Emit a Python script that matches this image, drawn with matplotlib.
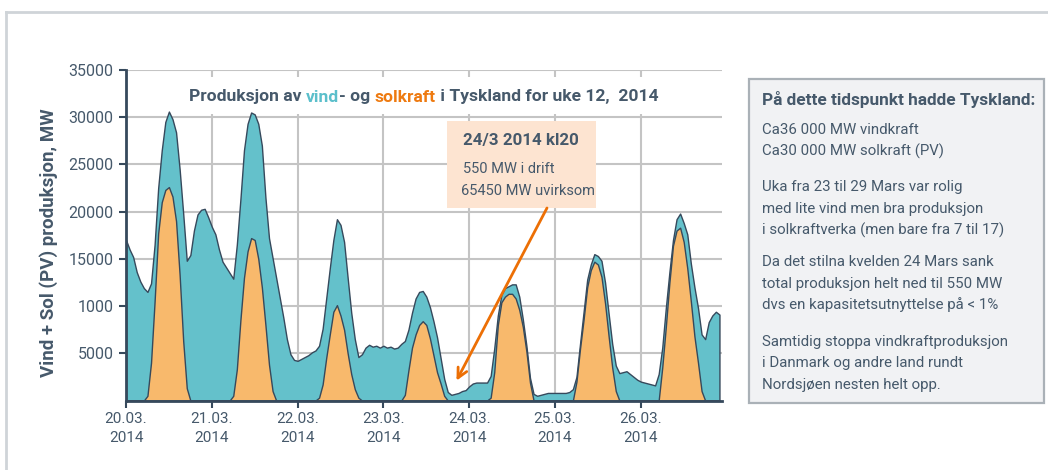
import numpy as np
import matplotlib
matplotlib.use("Agg")
import matplotlib.pyplot as plt
from matplotlib.patches import Rectangle
from matplotlib.lines import Line2D

plt.rcParams['font.family'] = ['Liberation Sans Narrow', 'Roboto', 'DejaVu Sans']

# ---------------- data (MW, hourly from 20.03.2014 00:00) ----------------
total_k = [
    # 20.03
    17.0, 16.0, 15.2, 13.6, 12.6, 11.9, 11.5, 12.4, 16.5, 22.5, 26.5, 29.5,
    30.6, 29.8, 28.4, 24.5, 19.8, 14.8, 15.4, 18.0, 19.7, 20.2, 20.3, 19.4,
    # 21.03
    18.4, 17.6, 16.0, 14.7, 14.1, 13.5, 12.9, 16.5, 21.3, 26.5, 29.3, 30.5,
    30.3, 29.3, 27.0, 21.5, 17.2, 15.1, 13.0, 10.9, 8.8, 6.5, 4.9, 4.3,
    # 22.03
    4.2, 4.4, 4.6, 4.8, 5.1, 5.3, 5.8, 7.6, 10.8, 14.0, 17.0, 19.2,
    18.6, 16.8, 13.0, 9.3, 6.5, 4.6, 4.9, 5.6, 5.9, 5.7, 5.8, 5.6,
    # 23.03
    5.8, 5.6, 5.7, 5.5, 5.6, 6.0, 6.3, 7.5, 9.3, 10.8, 11.5, 11.6,
    11.0, 9.9, 8.4, 6.7, 4.5, 2.3, 0.9, 0.6, 0.7, 0.8, 1.0, 1.1,
    # 24.03
    1.5, 1.8, 1.9, 1.9, 1.9, 1.9, 2.6, 5.5, 9.0, 11.2, 11.9, 12.1,
    12.3, 12.3, 11.0, 8.6, 5.8, 2.4, 0.7, 0.5, 0.6, 0.7, 0.8, 0.8,
    # 25.03
    0.8, 0.8, 0.8, 0.8, 0.9, 1.2, 2.5, 6.0, 9.4, 12.8, 14.4, 15.5,
    15.3, 14.8, 12.5, 9.2, 6.0, 3.7, 2.9, 3.0, 3.1, 2.8, 2.5, 2.2,
    # 26.03
    2.0, 1.9, 1.8, 1.7, 1.6, 2.8, 5.6, 9.8, 13.6, 17.0, 19.2, 19.8,
    18.8, 17.6, 14.5, 12.0, 9.8, 7.0, 6.5, 8.3, 9.0, 9.4, 9.1,
]

solar_k = [
    0, 0, 0, 0, 0, 0, 0.5, 4.0, 10.5, 17.7, 21.0, 22.3,
    22.6, 21.6, 19.0, 13.3, 6.3, 1.3, 0, 0, 0, 0, 0, 0,
    0, 0, 0, 0, 0, 0, 0.5, 3.3, 8.5, 13.0, 15.8, 17.2,
    17.0, 15.0, 12.0, 8.0, 3.8, 1.0, 0, 0, 0, 0, 0, 0,
    0, 0, 0, 0, 0, 0, 0.3, 1.7, 4.5, 7.0, 9.4, 10.1,
    9.0, 7.5, 5.0, 2.8, 1.2, 0.3, 0, 0, 0, 0, 0, 0,
    0, 0, 0, 0, 0, 0, 0.6, 3.2, 5.6, 7.0, 8.0, 8.4,
    8.0, 6.6, 4.8, 3.0, 1.8, 0.5, 0, 0, 0, 0, 0, 0,
    0, 0, 0, 0, 0, 0, 0.3, 3.0, 8.0, 10.4, 11.0, 11.3,
    11.3, 10.8, 9.6, 7.8, 5.2, 1.9, 0, 0, 0, 0, 0, 0,
    0, 0, 0, 0, 0, 0, 2.0, 5.5, 8.6, 12.0, 13.8, 14.7,
    14.4, 13.1, 10.3, 6.8, 3.5, 1.0, 0, 0, 0, 0, 0, 0,
    0, 0, 0, 0, 0, 0, 3.5, 7.8, 12.5, 16.4, 18.0, 18.3,
    16.8, 14.0, 10.5, 6.8, 4.0, 1.0, 0, 0, 0, 0, 0,
]

day_labels = ["20.03.\n2014", "21.03.\n2014", "22.03.\n2014", "23.03.\n2014",
              "24.03.\n2014", "25.03.\n2014", "26.03.\n2014"]
y_ticks = [5000, 10000, 15000, 20000, 25000, 30000, 35000]
y_tick_labels = ["5000", "1000", "15000", "20000", "25000", "30000", "35000"]

title_parts = [("Produksjon av ", "slate"), ("vind", "teal"), ("- og ", "slate"),
               ("solkraft", "orange"), (" i Tyskland for uke 12,  2014", "slate")]
ann_title = "24/3 2014 kl20"
ann_lines = ["550 MW i drift", "65450 MW uvirksom"]
box_head = "På dette tidspunkt hadde Tyskland:"
box_paras = [
    ["Ca36 000 MW vindkraft", "Ca30 000 MW solkraft (PV)"],
    ["Uka fra 23 til 29 Mars var rolig", "med lite vind men bra produksjon",
     "i solkraftverka (men bare fra 7 til 17)"],
    ["Da det stilna kvelden 24 Mars sank", "total produksjon helt ned til 550 MW",
     "dvs en kapasitetsutnyttelse på < 1%"],
    ["Samtidig stoppa vindkraftproduksjon", "i Danmark og andre land rundt",
     "Nordsjøen nesten helt opp."],
]

# ---------------- styling ----------------
SLATE = "#46596b"
TEAL_TXT = "#5bbfcb"
ORANGE_TXT = "#ee7a10"
TEAL = "#64c1cb"
ORANGE = "#f8b96c"
EDGE = "#36495c"
GRID = "#c4c4c4"
colors = {"slate": SLATE, "teal": TEAL_TXT, "orange": ORANGE_TXT}

W, H = 1048, 470
fig = plt.figure(figsize=(W / 100, H / 100), dpi=100)
fig.patch.set_facecolor("white")


def fx(px):
    return px / W


def fy(py):
    return 1 - py / H


# outer frame
fig.add_artist(Line2D([fx(6), 1.0], [fy(12), fy(12)], color="#cfd4d8", lw=2))
fig.add_artist(Line2D([fx(6), fx(6)], [fy(12), 0.0], color="#cfd4d8", lw=2))

ax_l, ax_r, ax_t, ax_b = 126, 722, 70, 400.5
ax = fig.add_axes([fx(ax_l), fy(ax_b), fx(ax_r - ax_l), (ax_b - ax_t) / H])

total = np.array(total_k) * 1000
solar = np.array(solar_k) * 1000
hours = np.arange(len(total))
days = hours / 24.0

ax.set_axisbelow(True)
ax.fill_between(days, 0, total, facecolor=TEAL, edgecolor=EDGE, lw=1.0, zorder=2)
ax.fill_between(days, 0, solar, facecolor=ORANGE, edgecolor=EDGE, lw=1.0, zorder=3)

ax.set_xlim(0, (ax_r - ax_l) / 85.8)
ax.set_ylim(0, 35000)
ax.set_xticks(range(len(day_labels)))
ax.set_xticklabels(day_labels, color=SLATE, fontsize=11, linespacing=1.45)
ax.set_yticks(y_ticks)
ax.set_yticklabels(y_tick_labels, color=SLATE, fontsize=11.5)
ax.tick_params(axis="both", colors=EDGE, labelcolor=SLATE, length=5, width=1.5)
ax.tick_params(axis="y", pad=4)
ax.tick_params(axis="x", pad=3)
ax.grid(True, color=GRID, lw=1.5)
for s in ["top", "right"]:
    ax.spines[s].set_visible(False)
for s in ["left", "bottom"]:
    ax.spines[s].set_color(EDGE)
    ax.spines[s].set_linewidth(2)
    ax.spines[s].set_zorder(5)

ax.set_ylabel("Vind + Sol (PV) produksjon, MW", fontsize=13.5, fontweight="bold",
              color=SLATE)
ax.yaxis.set_label_coords((58 - ax_l) / (ax_r - ax_l), (ax_b - 243) / (ax_b - ax_t))


def ax_frac(px, py):
    return ((px - ax_l) / (ax_r - ax_l), (ax_b - py) / (ax_b - ax_t))


# white title background
x0, y0 = ax_frac(170, 114)
x1, y1 = ax_frac(700, 77)
ax.add_patch(Rectangle((x0, y0), x1 - x0, y1 - y0, transform=ax.transAxes,
                       facecolor="white", edgecolor="none", zorder=1.5))

# annotation box
x0, y0 = ax_frac(447, 208)
x1, y1 = ax_frac(596, 121)
ax.add_patch(Rectangle((x0, y0), x1 - x0, y1 - y0, transform=ax.transAxes,
                       facecolor="#fde4d1", edgecolor="none", zorder=4))
tx, ty = ax_frac(463, 141)
ax.text(tx, ty, ann_title, transform=ax.transAxes, fontsize=12.2, fontweight="bold",
        color=SLATE, va="center", ha="left", zorder=6)
tx, ty = ax_frac(463, 169)
ax.text(tx, ty, ann_lines[0], transform=ax.transAxes, fontsize=10.5,
        color=SLATE, va="center", ha="left", zorder=6)
tx, ty = ax_frac(461, 191)
ax.text(tx, ty, ann_lines[1], transform=ax.transAxes, fontsize=10.5,
        color=SLATE, va="center", ha="left", zorder=6)

# arrow from box to the minimum (data point at 23.03 ~21h)
min_idx = int(np.argmin(total[72:100])) + 72
sx, sy = ax_frac(547, 208)
ax.annotate("", xy=(days[min_idx] + 0.06, total[min_idx] + 1500), xycoords="data",
            xytext=(sx, sy), textcoords="axes fraction",
            arrowprops=dict(arrowstyle="->,head_length=0.7,head_width=0.35",
                            color="#ec6f05", lw=2, shrinkA=0, shrinkB=0),
            zorder=7)

# colored title
renderer = fig.canvas.get_renderer()
title_kw = dict(fontsize=12.6, fontweight="bold")


def text_width(s):
    t = fig.text(0, 0, s + "|", **title_kw)
    w1 = t.get_window_extent(renderer).width
    t.remove()
    t = fig.text(0, 0, "|", **title_kw)
    w2 = t.get_window_extent(renderer).width
    t.remove()
    return w1 - w2


full = "".join(p for p, _ in title_parts)
total_w = text_width(full)
start_px = 423.5 - total_w / 2
prefix = ""
for s, c in title_parts:
    off = text_width(prefix) if prefix else 0
    fig.text(fx(start_px + off), fy(97), s, color=colors[c], va="center", ha="left",
             **title_kw)
    prefix += s

# right info box
fig.add_artist(Rectangle((fx(749), fy(403)), fx(1044 - 749), (403 - 79) / H,
                         transform=fig.transFigure, facecolor="#f1f2f4",
                         edgecolor="#aab1b7", lw=1.6))
fig.text(fx(762), fy(99), box_head, fontsize=12.4, fontweight="bold", color=SLATE,
         va="center", ha="left")
line_y = [[130, 151], [187, 209, 230], [262, 284, 305], [342, 363, 385]]
for para, ys in zip(box_paras, line_y):
    for line, yy in zip(para, ys):
        fig.text(fx(762), fy(yy), line, fontsize=10.8, color=SLATE, va="center", ha="left")

fig.savefig("out.png", dpi=100)
